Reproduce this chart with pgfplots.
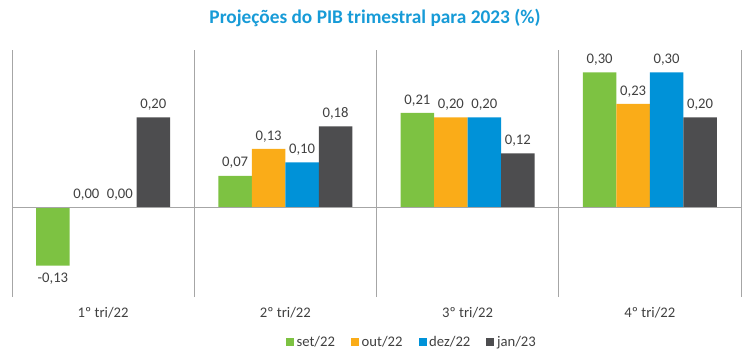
\documentclass[border=0pt]{standalone}
\usepackage{pgfplots}
\pgfplotsset{compat=1.18}
\usepackage{fontspec}
\setmainfont{Carlito}
\definecolor{cgreen}{HTML}{7DC242}
\definecolor{corange}{HTML}{FAAC18}
\definecolor{cblue}{HTML}{0092D8}
\definecolor{cdark}{HTML}{4D4D4F}
\definecolor{ctitle}{HTML}{179BD7}
\definecolor{gridgray}{HTML}{A6A6A6}
\definecolor{labelgray}{HTML}{404040}
\begin{document}
\begin{tikzpicture}
\path[use as bounding box] (0,0) rectangle (562.5pt,266.25pt);
\node[font=\bfseries\fontsize{14.5}{16}\selectfont, text=ctitle] at (281.25pt,252.75pt) {Projeções do PIB trimestral para 2023 (\%)};
\begin{axis}[
  at={(9pt,43.5pt)}, anchor=south west,
  scale only axis, width=546.75pt, height=185.25pt,
  xmin=-0.5, xmax=3.5, ymin=-0.2, ymax=0.35,
  axis line style={draw=none},
  ytick=\empty,
  xtick={0,1,2,3},
  xticklabels={1º tri/22, 2º tri/22, 3º tri/22, 4º tri/22},
  major tick length=0pt,
  minor xtick={-0.5,0.5,1.5,2.5,3.5},
  xminorgrids, minor grid style={draw=gridgray, line width=0.75pt},
  minor tick length=0pt,
  x tick label style={font=\fontsize{11}{13}\selectfont, text=labelgray, yshift=-4pt},
  ybar=0pt, bar width=25.1pt,
  nodes near coords,
  nodes near coords align={vertical},
  every node near coord/.append style={font=\fontsize{11}{13}\selectfont, text=labelgray, inner ysep=5pt,
    /pgf/number format/.cd, fixed, fixed zerofill, precision=2, use comma, assume math mode=true},
  clip=false,
  legend columns=4,
  legend style={at={(0.549,-0.182)}, anchor=center, draw=none, fill=none,
    font=\fontsize{11}{13}\selectfont, text=labelgray,
    /tikz/every even column/.append style={column sep=10pt}},
  legend image code/.code={\draw[#1,draw=none] (0pt,-3pt) rectangle (6pt,3pt);},
]
\addplot[fill=cgreen, draw=none] coordinates {(0,-0.13) (1,0.07) (2,0.21) (3,0.30)};
\addplot[fill=corange, draw=none] coordinates {(0,0.00) (1,0.13) (2,0.20) (3,0.23)};
\addplot[fill=cblue, draw=none] coordinates {(0,0.00) (1,0.10) (2,0.20) (3,0.30)};
\addplot[fill=cdark, draw=none] coordinates {(0,0.20) (1,0.18) (2,0.12) (3,0.20)};
\legend{set/22, out/22, dez/22, jan/23}
\draw[gridgray, line width=0.75pt] (axis cs:-0.5,0) -- (axis cs:3.5,0);
\end{axis}
\end{tikzpicture}
\end{document}
